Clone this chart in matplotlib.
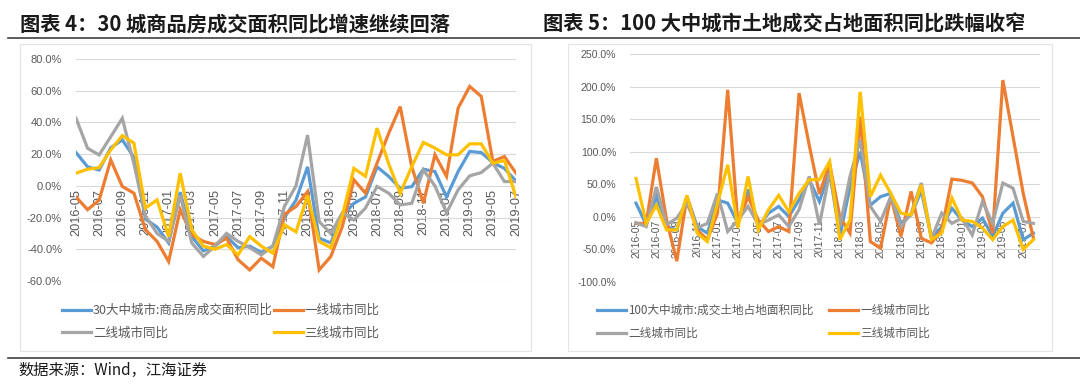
import matplotlib
matplotlib.use("Agg")
import matplotlib.pyplot as plt
from matplotlib.patches import Rectangle
from matplotlib.lines import Line2D
import numpy as np

plt.rcParams['font.family'] = ['Noto Sans CJK SC', 'DejaVu Sans']

# ---- data ----
months_l = [f"{y}-{m:02d}" for y in (2016, 2017, 2018, 2019) for m in range(1, 13)]
months_l = months_l[months_l.index("2016-05"):months_l.index("2019-07") + 1]
months_r = months_l + ["2019-08"]

# figure 4: 30 cities, YoY of sales area (%)
l_30city = [21, 12, 10, 24, 29, 18, -21, -26, -36, -4, -32, -41, -38, -32, -39, -38, -42, -38, -20,
            -9, 12, -33, -36, -19, -11, -7, 12, 6, -1.5, -0.5, 10.5, 9, -7, 9, 21.7, 21, 14.7, 11, 3]
l_tier1 = [-7, -15, -9, 16.4, -0.4, -4.6, -27.7, -35, -47.7, -15, -31, -35, -37, -33, -46.6, -53, -45.6, -51, -18,
           -13, -3.6, -53, -44.6, -25.7, 3.8, -4.6, 14.3, 33, 50, 12, -11, 19.6, 6, 49, 62.7, 56.4, 15.4, 18.5, 8]
l_tier2 = [42.6, 23.7, 19.5, 31, 42.6, 14, -19, -30, -35, -6, -36, -44.5, -38, -30, -35, -39, -43.5, -38, -13,
           0, 32, -22.5, -30, -17, -21.5, -14, -0.4, -4.6, -12, -11, 10, 0, -17, -2.5, 6.3, 8.4, 14.3, 2.7, 2.7]
l_tier3 = [8, 10.5, 11.5, 22.7, 31.7, 26.9, -14, -8.8, -32, 8, -27.7, -38, -40, -37, -43.5, -32, -38, -42.4, -24.6,
           -29, -6, -35, -39, -19, 11, 6, 36.4, 14, -4.6, 12.2, 27.4, 23.8, 19.6, 19.6, 26.5, 26.5, 14.3, 16, -7]

# figure 5: 100 cities, YoY of land area sold (%)
r_100city = [21, -12, 31, -15, -20, 31, -15, -25, 26, 21, -10, 42, -15, 5.6, 16, 0.5, 26, 57, 23.5, 70,
             -30, 46, 100, 18, 31, 36, -10, 3, 40, -33, -15, 13, -5, -15, -2, -30, 5.6, 21, -35, -25]
r_tier1 = [-10, -10, 90, -5, -68, 31, -20, -35, 5.6, 195, -10, 31, -5, -22.5, -15, -22.5, 190, 110, 35, 82,
           0, -25, 154, -38, -48, 31, -30, 39, -33, -40, -20, 58, 56, 52, 31, -25, 210, 123, 36, -33]
r_tier2 = [-9, -15, 46, -12, -2, 21, -17, -10, 36, -22.5, -5, 16, -12, -5, 3, -15, 11, 62, -12, 67,
           -15, 62, 118, 16, -7, 31, -15, 5.6, 52, -33, 5.6, -10, -2, -28, 23.5, -10, 52, 44, -7, -10]
r_tier3 = [59, -10, 18, -20, -20, 33, -25, -38, 21, 80, -17, 62, -20, 11, 33, 8, 36, 57, 57, 85,
           -35, -5, 192, 31, 64, 36, 5.6, 3, 49, -35, -25, 29, -5, -7, -17, -35, -15, -5, -50, -35]

labels_l = ["30大中城市:商品房成交面积同比", "一线城市同比", "二线城市同比", "三线城市同比"]
labels_r = ["100大中城市:成交土地占地面积同比", "一线城市同比", "二线城市同比", "三线城市同比"]
colors = ["#5B9BD5", "#ED7D31", "#A5A5A5", "#FFC000"]

W, H = 1080, 392
fig = plt.figure(figsize=(W / 100, H / 100), dpi=100)


def fx(px):
    return px / W


def fy(py):
    return 1 - py / H


def draw_panel(ax, months, series, labels, yticks, xtick_size, ytick_size, xlim):
    x = np.arange(len(months))
    handles = []
    for s, c, lab in zip(series, colors, labels):
        h, = ax.plot(x, np.array(s) / 100, color=c, lw=2.3, label=lab, solid_joinstyle='miter')
        handles.append(h)
    # category axis crosses at 0 (set before labels, it resets the ticks)
    ax.spines['bottom'].set_position(('data', 0))
    ax.spines['bottom'].set_visible(False)
    for sp in ['left', 'right', 'top']:
        ax.spines[sp].set_visible(False)
    ax.set_xlim(*xlim)
    ax.set_ylim(yticks[0], yticks[-1])
    ax.set_yticks(yticks)
    ax.set_yticklabels([f"{v * 100:.1f}%" for v in yticks], fontsize=ytick_size,
                       color="#595959", family="Liberation Sans")
    ax.set_xticks(x[::2])
    ax.set_xticklabels(months[::2], rotation=90, fontsize=xtick_size, color="#595959",
                       family="Liberation Sans", va='top', ha='center')
    ax.grid(axis='y', color="#D9D9D9", lw=0.8)
    ax.set_axisbelow(True)
    ax.tick_params(axis='both', length=0)
    ax.tick_params(axis='y', pad=10)
    ax.tick_params(axis='x', pad=2)
    ax.patch.set_alpha(0)
    return handles


# left panel
axl = fig.add_axes([fx(76), fy(281), fx(516 - 76), (281 - 59) / H])
hl = draw_panel(axl, months_l, [l_30city, l_tier1, l_tier2, l_tier3], labels_l,
                [-0.6, -0.4, -0.2, 0, 0.2, 0.4, 0.6, 0.8], 9.2, 8, (0, len(months_l) - 1))

# right panel
axr = fig.add_axes([fx(630), fy(282), fx(1040 - 630), (282 - 54) / H])
step = 10.19
hr = draw_panel(axr, months_r, [r_100city, r_tier1, r_tier2, r_tier3], labels_r,
                [-1.0, -0.5, 0, 0.5, 1.0, 1.5, 2.0, 2.5], 7.5, 7.6,
                (-(636 - 630) / step, (1040 - 636) / step))

# legends (column-wise: blue, gray | orange, yellow)
fig.legend([hl[0], hl[2], hl[1], hl[3]], [labels_l[0], labels_l[2], labels_l[1], labels_l[3]],
           ncol=2, loc='upper left', bbox_to_anchor=(fx(56), fy(298)), frameon=False,
           fontsize=9, handlelength=2.3, handletextpad=0.15, columnspacing=0.1,
           labelspacing=0.75, borderpad=0, labelcolor="#595959")
fig.legend([hr[0], hr[2], hr[1], hr[3]], [labels_r[0], labels_r[2], labels_r[1], labels_r[3]],
           ncol=2, loc='upper left', bbox_to_anchor=(fx(591), fy(298)), frameon=False,
           fontsize=8.4, handlelength=2.5, handletextpad=0.2, columnspacing=1.3,
           labelspacing=0.85, borderpad=0, labelcolor="#595959")

# chart frames
for x0, x1 in [(20, 531), (568, 1052)]:
    fig.add_artist(Rectangle((fx(x0), fy(351)), fx(x1 - x0), (351 - 44) / H,
                             transform=fig.transFigure, fill=False, ec="#E3E3E3", lw=0.8))

# titles and rules
fig.text(fx(20), fy(24), "图表 4：30 城商品房成交面积同比增速继续回落", fontsize=14.6,
         fontweight='bold', va='center', ha='left', color="#1a1a1a")
fig.text(fx(543), fy(24), "图表 5：100 大中城市土地成交占地面积同比跌幅收窄", fontsize=14.6,
         fontweight='bold', va='center', ha='left', color="#1a1a1a")
fig.add_artist(Line2D([fx(8), 1], [fy(37.5), fy(37.5)], transform=fig.transFigure,
                      color="#404040", lw=1.2))
fig.add_artist(Line2D([fx(8), 1], [fy(357.5), fy(357.5)], transform=fig.transFigure,
                      color="#404040", lw=1.2))
fig.text(fx(18), fy(370), "数据来源：Wind，江海证券", fontsize=11, va='center', ha='left',
         color="#1a1a1a")

fig.savefig("out.png", dpi=100, facecolor="white")
